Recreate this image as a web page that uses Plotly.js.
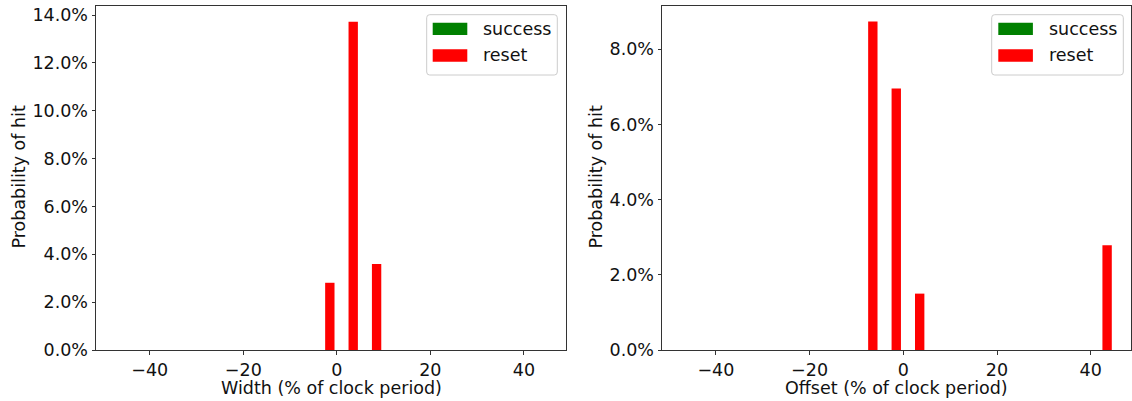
<!DOCTYPE html>
<html><head><meta charset="utf-8">
<script src="https://cdn.plot.ly/plotly-3.0.1.min.js"></script>
<style>html,body{margin:0;padding:0;background:#fff}</style>
</head><body><div id="chart" style="width:1132px;height:401px"></div>
<script>
// ---- data ----
const seriesNames = ['success', 'reset'];
const widthX = [-1.5, 3.5, 8.5];
const widthSuccess = [0, 0, 0];
const widthReset = [0.0281, 0.1372, 0.0359];
const offsetX = [-6.5, -1.5, 3.5, 43.5];
const offsetSuccess = [0, 0, 0, 0];
const offsetReset = [0.0874, 0.0696, 0.0150, 0.0279];
const xTitles = ['Width (% of clock period)', 'Offset (% of clock period)'];
const yTitle = 'Probability of hit';

// ---- layout helpers ----
const W = 1132, H = 401;
const px = x => x / W, py = y => 1 - y / H;
const colors = {success: '#008000', reset: '#ff0000'};
const FONT = 'DejaVu Sans, sans-serif';
const FS = 17.5;

function bar(x, y, name, xa, ya) {
  return {type: 'bar', x: x, y: y, name: name, xaxis: xa, yaxis: ya, width: 2,
    marker: {color: colors[name], line: {width: 0}}, showlegend: false, hoverinfo: 'x+y'};
}
const data = [
  bar(widthX.map(v => v - 2), widthSuccess, seriesNames[0], 'x', 'y'),
  bar(widthX, widthReset, seriesNames[1], 'x', 'y'),
  bar(offsetX.map(v => v - 2), offsetSuccess, seriesNames[0], 'x2', 'y2'),
  bar(offsetX, offsetReset, seriesNames[1], 'x2', 'y2')
];

const axBase = {showline: true, mirror: true, linecolor: '#333', linewidth: 1,
  ticks: 'outside', ticklen: 3.5, tickwidth: 1, tickcolor: '#333',
  showgrid: false, zeroline: false, automargin: false,
  tickfont: {family: FONT, size: FS, color: '#111'}};

const yTop = 5.5, yBot = 350;
const layout = {
  width: W, height: H, margin: {l: 0, r: 0, t: 0, b: 0},
  paper_bgcolor: '#fff', plot_bgcolor: '#fff', barmode: 'overlay', showlegend: false,
  font: {family: FONT, size: FS, color: '#111'},
  xaxis: Object.assign({}, axBase, {domain: [px(96), px(566)], range: [-51.5, 49], tickvals: [-40, -20, 0, 20, 40], anchor: 'y'}),
  yaxis: Object.assign({}, axBase, {domain: [py(yBot), py(yTop)], range: [0, 0.1440], dtick: 0.02, tick0: 0, tickformat: '.1%', anchor: 'x'}),
  xaxis2: Object.assign({}, axBase, {domain: [px(662), px(1131)], range: [-51.5, 48.6], tickvals: [-40, -20, 0, 20, 40], anchor: 'y2'}),
  yaxis2: Object.assign({}, axBase, {domain: [py(yBot), py(yTop)], range: [0, 0.09165], dtick: 0.02, tick0: 0, tickformat: '.1%', anchor: 'x2'}),
  annotations: [], shapes: []
};

function ann(text, x, y, opts) {
  layout.annotations.push(Object.assign({text: text, x: px(x), y: py(y), xref: 'paper', yref: 'paper',
    showarrow: false, borderpad: 0, font: {family: FONT, size: FS, color: '#111'}, xanchor: 'center', yanchor: 'middle'}, opts || {}));
}
ann(xTitles[0], 331, 388);
ann(xTitles[1], 896, 388);
ann(yTitle, 18, 177.5, {textangle: -90});
ann(yTitle, 595, 177.5, {textangle: -90});

function roundRect(x0, y0, x1, y1, r) {
  const rx = r / W, ry = r / H;
  const X0 = px(x0), X1 = px(x1), Y0 = py(y0), Y1 = py(y1);
  return `M${X0 + rx},${Y0} L${X1 - rx},${Y0} Q${X1},${Y0} ${X1},${Y0 - ry} L${X1},${Y1 + ry} Q${X1},${Y1} ${X1 - rx},${Y1} L${X0 + rx},${Y1} Q${X0},${Y1} ${X0},${Y1 + ry} L${X0},${Y0 - ry} Q${X0},${Y0} ${X0 + rx},${Y0} Z`;
}
function legend(bx0, bx1, patchX0, textX) {
  layout.shapes.push({type: 'path', xref: 'paper', yref: 'paper', path: roundRect(bx0, 14.7, bx1, 75, 3),
    line: {color: '#cccccc', width: 1}, fillcolor: 'rgba(255,255,255,0.8)'});
  const rows = [[seriesNames[0], 22.7, 35, 28.8], [seriesNames[1], 49.3, 61.7, 55.5]];
  rows.forEach(([n, t, b, c]) => {
    layout.shapes.push({type: 'rect', xref: 'paper', yref: 'paper', x0: px(patchX0), x1: px(patchX0 + 34.6),
      y0: py(b), y1: py(t), line: {width: 0}, fillcolor: colors[n]});
    ann(n, textX, c, {xanchor: 'left'});
  });
}
legend(426.7, 557.3, 432.7, 481.7);
legend(991.7, 1123.3, 998.3, 1048.3);

Plotly.newPlot('chart', data, layout, {staticPlot: true, displayModeBar: false});
</script></body></html>
